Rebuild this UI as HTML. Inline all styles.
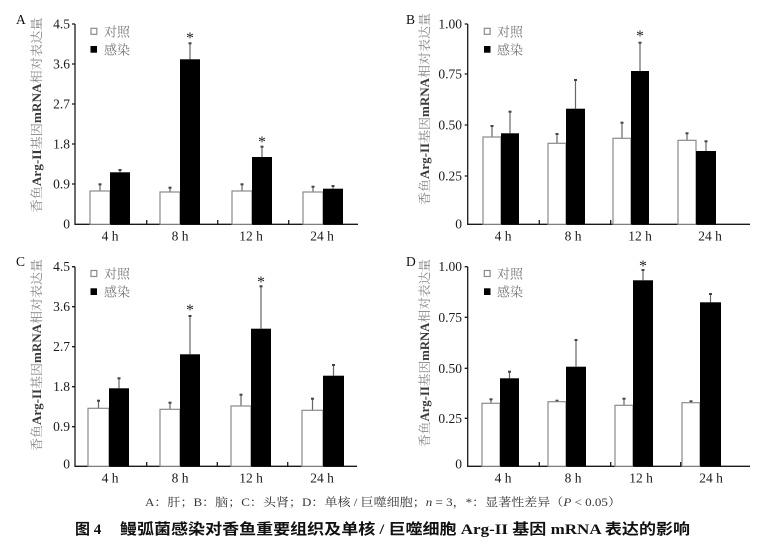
<!DOCTYPE html>
<html><head><meta charset="utf-8"><style>
html,body{margin:0;padding:0;background:#fff;}
svg{display:block;}
.tk{font-family:"Liberation Serif","Noto Serif CJK SC",serif;font-size:13.5px;fill:#1a1a1a;}
.lg{font-family:"Liberation Serif","Noto Serif CJK SC",serif;font-size:13px;fill:#777;}
.yt{font-family:"Liberation Serif","Noto Serif CJK SC",serif;font-size:12.5px;fill:#868686;}
.yt .b{fill:#3a3a3a;font-weight:bold;}
.pl{font-family:"Liberation Serif",serif;font-size:13.5px;fill:#111;}
.st{font-family:"Liberation Serif",serif;font-size:16px;fill:#222;}
.ax{stroke:#1a1a1a;stroke-width:1.3;fill:none;}
.wb{fill:#fff;stroke:#8a8a8a;stroke-width:1.2;}
.bb{fill:#000;}
.eb{stroke:#666;stroke-width:1.2;}
.cap{stroke:#444;stroke-width:2;}
</style></head><body>
<svg width="757" height="551" viewBox="0 0 757 551" xmlns="http://www.w3.org/2000/svg">
<rect width="757" height="551" fill="#fff"/>

<!-- ===== Panel A ===== -->
<text class="pl" x="16" y="24">A</text>
<text class="yt" transform="rotate(-90 37 115)" x="37" y="115" text-anchor="middle" dominant-baseline="central" textLength="195" lengthAdjust="spacingAndGlyphs">香鱼<tspan class="b">Arg-II</tspan>基因<tspan class="b">mRNA</tspan>相对表达量</text>
<path class="ax" d="M75 24 V224.3 H358"/>
<path class="ax" d="M72 24 H75 M72 64 H75 M72 104 H75 M72 144 H75 M72 184 H75 M146.7 224 V220 M217.7 224 V220 M288.7 224 V220"/>
<g class="tk" text-anchor="end" dominant-baseline="central">
<text x="70" y="24">4.5</text><text x="70" y="64">3.6</text><text x="70" y="104">2.7</text><text x="70" y="144">1.8</text><text x="70" y="184">0.9</text><text x="70" y="224">0</text>
</g>
<g class="tk" text-anchor="middle" dominant-baseline="central">
<text x="110" y="236">4 h</text><text x="180" y="236">8 h</text><text x="251" y="236">12 h</text><text x="322" y="236">24 h</text>
</g>
<rect class="wb" x="91" y="28.3" width="5.8" height="6"/><text class="lg" x="104" y="32" dominant-baseline="central">对照</text>
<rect class="bb" x="90.5" y="46" width="6.5" height="6.7"/><text class="lg" x="104" y="50" dominant-baseline="central">感染</text>
<!-- bars A -->
<line class="eb" x1="100" y1="191" x2="100" y2="184.3"/><line class="cap" x1="98.5" y1="184.3" x2="101.5" y2="184.3"/>
<rect class="wb" x="90" y="191" width="20" height="33.3"/>
<line class="eb" x1="120" y1="172.3" x2="120" y2="170"/><line class="cap" x1="118.5" y1="170" x2="121.5" y2="170"/>
<rect class="bb" x="110" y="172.3" width="20" height="52"/>
<line class="eb" x1="170" y1="192" x2="170" y2="187.7"/><line class="cap" x1="168.5" y1="187.7" x2="171.5" y2="187.7"/>
<rect class="wb" x="160" y="192" width="20" height="32.3"/>
<line class="eb" x1="190" y1="59.3" x2="190" y2="43.3"/><line class="cap" x1="188.5" y1="43.3" x2="191.5" y2="43.3"/>
<rect class="bb" x="180" y="59.3" width="20" height="165"/>
<text class="st" x="190" y="43" text-anchor="middle">*</text>
<line class="eb" x1="242" y1="191" x2="242" y2="184.3"/><line class="cap" x1="240.5" y1="184.3" x2="243.5" y2="184.3"/>
<rect class="wb" x="232" y="191" width="20" height="33.3"/>
<line class="eb" x1="262" y1="157" x2="262" y2="146.7"/><line class="cap" x1="260.5" y1="146.7" x2="263.5" y2="146.7"/>
<rect class="bb" x="252" y="157" width="20" height="67.3"/>
<text class="st" x="262" y="147" text-anchor="middle">*</text>
<line class="eb" x1="313" y1="192" x2="313" y2="186.7"/><line class="cap" x1="311.5" y1="186.7" x2="314.5" y2="186.7"/>
<rect class="wb" x="303" y="192" width="20" height="32.3"/>
<line class="eb" x1="333" y1="188.7" x2="333" y2="186"/><line class="cap" x1="331.5" y1="186" x2="334.5" y2="186"/>
<rect class="bb" x="323" y="188.7" width="20" height="35.6"/>

<!-- ===== Panel B ===== -->
<text class="pl" x="406" y="24">B</text>
<text class="yt" transform="rotate(-90 425 109)" x="425" y="109" text-anchor="middle" dominant-baseline="central" textLength="192" lengthAdjust="spacingAndGlyphs">香鱼<tspan class="b">Arg-II</tspan>基因<tspan class="b">mRNA</tspan>相对表达量</text>
<path class="ax" d="M467.7 24 V224.3 H750"/>
<path class="ax" d="M464.7 24 H467.7 M464.7 74 H467.7 M464.7 125 H467.7 M464.7 176 H467.7 M539.3 224 V220 M610.7 224 V220 M680 224 V220"/>
<g class="tk" text-anchor="end" dominant-baseline="central">
<text x="462" y="24">1.00</text><text x="462" y="74">0.75</text><text x="462" y="125">0.50</text><text x="462" y="176">0.25</text><text x="462" y="224">0</text>
</g>
<g class="tk" text-anchor="middle" dominant-baseline="central">
<text x="503" y="236">4 h</text><text x="573" y="236">8 h</text><text x="640" y="236">12 h</text><text x="710" y="236">24 h</text>
</g>
<rect class="wb" x="484.3" y="28.3" width="5.8" height="6"/><text class="lg" x="497" y="32" dominant-baseline="central">对照</text>
<rect class="bb" x="484" y="46" width="6.5" height="6.7"/><text class="lg" x="497" y="50" dominant-baseline="central">感染</text>
<!-- bars B -->
<line class="eb" x1="492" y1="137" x2="492" y2="126"/><line class="cap" x1="490.5" y1="126" x2="493.5" y2="126"/>
<rect class="wb" x="483" y="137" width="18" height="87.3"/>
<line class="eb" x1="510" y1="133.3" x2="510" y2="111.7"/><line class="cap" x1="508.5" y1="111.7" x2="511.5" y2="111.7"/>
<rect class="bb" x="501" y="133.3" width="18" height="91"/>
<line class="eb" x1="557" y1="143.3" x2="557" y2="134"/><line class="cap" x1="555.5" y1="134" x2="558.5" y2="134"/>
<rect class="wb" x="548" y="143.3" width="18" height="81"/>
<line class="eb" x1="575.5" y1="108.7" x2="575.5" y2="80"/><line class="cap" x1="574" y1="80" x2="577" y2="80"/>
<rect class="bb" x="566" y="108.7" width="19" height="115.6"/>
<line class="eb" x1="622" y1="138.3" x2="622" y2="122.7"/><line class="cap" x1="620.5" y1="122.7" x2="623.5" y2="122.7"/>
<rect class="wb" x="613" y="138.3" width="18" height="86"/>
<line class="eb" x1="640" y1="71" x2="640" y2="42.7"/><line class="cap" x1="638.5" y1="42.7" x2="641.5" y2="42.7"/>
<rect class="bb" x="631" y="71" width="18" height="153.3"/>
<text class="st" x="640" y="41" text-anchor="middle">*</text>
<line class="eb" x1="687" y1="140.3" x2="687" y2="133.3"/><line class="cap" x1="685.5" y1="133.3" x2="688.5" y2="133.3"/>
<rect class="wb" x="678" y="140.3" width="18" height="84"/>
<line class="eb" x1="706" y1="151" x2="706" y2="141.3"/><line class="cap" x1="704.5" y1="141.3" x2="707.5" y2="141.3"/>
<rect class="bb" x="696" y="151" width="20" height="73.3"/>

<!-- ===== Panel C ===== -->
<text class="pl" x="16" y="266">C</text>
<text class="yt" transform="rotate(-90 37 355)" x="37" y="355" text-anchor="middle" dominant-baseline="central" textLength="192" lengthAdjust="spacingAndGlyphs">香鱼<tspan class="b">Arg-II</tspan>基因<tspan class="b">mRNA</tspan>相对表达量</text>
<path class="ax" d="M75 266.7 V466.3 H357"/>
<path class="ax" d="M72 266.7 H75 M72 306.7 H75 M72 346.7 H75 M72 386.7 H75 M72 426.7 H75 M146.7 466 V462 M217.3 466 V462 M287.7 466 V462"/>
<g class="tk" text-anchor="end" dominant-baseline="central">
<text x="70" y="266.7">4.5</text><text x="70" y="306.7">3.6</text><text x="70" y="346.7">2.7</text><text x="70" y="386.7">1.8</text><text x="70" y="426.7">0.9</text><text x="70" y="464">0</text>
</g>
<g class="tk" text-anchor="middle" dominant-baseline="central">
<text x="110" y="478">4 h</text><text x="180" y="478">8 h</text><text x="251" y="478">12 h</text><text x="322" y="478">24 h</text>
</g>
<rect class="wb" x="91" y="270.5" width="5.8" height="6"/><text class="lg" x="104" y="274" dominant-baseline="central">对照</text>
<rect class="bb" x="90.5" y="288.3" width="6.5" height="6.7"/><text class="lg" x="104" y="292" dominant-baseline="central">感染</text>
<!-- bars C -->
<line class="eb" x1="98.5" y1="408.3" x2="98.5" y2="400.7"/><line class="cap" x1="97" y1="400.7" x2="100" y2="400.7"/>
<rect class="wb" x="88" y="408.3" width="21" height="58"/>
<line class="eb" x1="119" y1="388.3" x2="119" y2="378.3"/><line class="cap" x1="117.5" y1="378.3" x2="120.5" y2="378.3"/>
<rect class="bb" x="109" y="388.3" width="20" height="78"/>
<line class="eb" x1="170" y1="409.3" x2="170" y2="402.7"/><line class="cap" x1="168.5" y1="402.7" x2="171.5" y2="402.7"/>
<rect class="wb" x="160" y="409.3" width="20" height="57"/>
<line class="eb" x1="190" y1="354.3" x2="190" y2="316"/><line class="cap" x1="188.5" y1="316" x2="191.5" y2="316"/>
<rect class="bb" x="180" y="354.3" width="20" height="112"/>
<text class="st" x="190" y="315" text-anchor="middle">*</text>
<line class="eb" x1="241" y1="406" x2="241" y2="394.7"/><line class="cap" x1="239.5" y1="394.7" x2="242.5" y2="394.7"/>
<rect class="wb" x="231" y="406" width="20" height="60.3"/>
<line class="eb" x1="261" y1="328.7" x2="261" y2="286.3"/><line class="cap" x1="259.5" y1="286.3" x2="262.5" y2="286.3"/>
<rect class="bb" x="251" y="328.7" width="20" height="137.6"/>
<text class="st" x="261" y="287" text-anchor="middle">*</text>
<line class="eb" x1="312.5" y1="410.3" x2="312.5" y2="398.7"/><line class="cap" x1="311" y1="398.7" x2="314" y2="398.7"/>
<rect class="wb" x="302" y="410.3" width="21" height="56"/>
<line class="eb" x1="333.5" y1="375.7" x2="333.5" y2="365"/><line class="cap" x1="332" y1="365" x2="335" y2="365"/>
<rect class="bb" x="323" y="375.7" width="21" height="90.6"/>

<!-- ===== Panel D ===== -->
<text class="pl" x="406" y="266">D</text>
<text class="yt" transform="rotate(-90 425 353)" x="425" y="353" text-anchor="middle" dominant-baseline="central" textLength="188" lengthAdjust="spacingAndGlyphs">香鱼<tspan class="b">Arg-II</tspan>基因<tspan class="b">mRNA</tspan>相对表达量</text>
<path class="ax" d="M467.7 266.7 V466.3 H750"/>
<path class="ax" d="M464.7 266.7 H467.7 M464.7 317.3 H467.7 M464.7 368.3 H467.7 M464.7 418.3 H467.7 M539.3 466 V462 M610.7 466 V462 M680.7 466 V462"/>
<g class="tk" text-anchor="end" dominant-baseline="central">
<text x="462" y="266.7">1.00</text><text x="462" y="317.3">0.75</text><text x="462" y="368.3">0.50</text><text x="462" y="418.3">0.25</text><text x="462" y="464">0</text>
</g>
<g class="tk" text-anchor="middle" dominant-baseline="central">
<text x="503" y="478">4 h</text><text x="573" y="478">8 h</text><text x="641" y="478">12 h</text><text x="711" y="478">24 h</text>
</g>
<rect class="wb" x="484.3" y="270.5" width="5.8" height="6"/><text class="lg" x="497" y="274" dominant-baseline="central">对照</text>
<rect class="bb" x="484" y="288.3" width="6.5" height="6.7"/><text class="lg" x="497" y="292" dominant-baseline="central">感染</text>
<!-- bars D -->
<line class="eb" x1="491" y1="403.3" x2="491" y2="399.3"/><line class="cap" x1="489.5" y1="399.3" x2="492.5" y2="399.3"/>
<rect class="wb" x="482" y="403.3" width="18" height="63"/>
<line class="eb" x1="509.5" y1="378.3" x2="509.5" y2="371.7"/><line class="cap" x1="508" y1="371.7" x2="511" y2="371.7"/>
<rect class="bb" x="500" y="378.3" width="19" height="88"/>
<line class="cap" x1="555.5" y1="400.7" x2="558.5" y2="400.7"/>
<rect class="wb" x="548" y="401.7" width="18" height="64.6"/>
<line class="eb" x1="576" y1="366.7" x2="576" y2="340"/><line class="cap" x1="574.5" y1="340" x2="577.5" y2="340"/>
<rect class="bb" x="566" y="366.7" width="20" height="99.6"/>
<line class="eb" x1="624" y1="405.3" x2="624" y2="398.7"/><line class="cap" x1="622.5" y1="398.7" x2="625.5" y2="398.7"/>
<rect class="wb" x="615" y="405.3" width="18" height="61"/>
<line class="eb" x1="643" y1="280.3" x2="643" y2="270"/><line class="cap" x1="641.5" y1="270" x2="644.5" y2="270"/>
<rect class="bb" x="633" y="280.3" width="20" height="186"/>
<text class="st" x="643" y="271" text-anchor="middle">*</text>
<line class="cap" x1="689.5" y1="401.3" x2="692.5" y2="401.3"/>
<rect class="wb" x="682" y="402.7" width="18" height="63.6"/>
<line class="eb" x1="710.5" y1="302.3" x2="710.5" y2="294"/><line class="cap" x1="709" y1="294" x2="712" y2="294"/>
<rect class="bb" x="700" y="302.3" width="21" height="164"/>

<!-- ===== Captions ===== -->
<text x="145" y="506" font-family="'Liberation Serif','Noto Serif CJK SC',serif" font-size="11.5" fill="#333" textLength="476" lengthAdjust="spacingAndGlyphs">A：肝；B：脑；C：头肾；D：单核 / 巨噬细胞；<tspan font-style="italic">n</tspan> = 3，*：显著性差异（<tspan font-style="italic">P</tspan> &lt; 0.05）</text>
<text x="75" y="534" font-family="'Liberation Serif','Noto Sans CJK SC',sans-serif" font-size="15" font-weight="bold" fill="#111">图 4</text>
<text x="120" y="534" font-family="'Liberation Serif','Noto Sans CJK SC',sans-serif" font-size="15" font-weight="bold" fill="#111" textLength="570" lengthAdjust="spacingAndGlyphs">鳗弧菌感染对香鱼重要组织及单核 / 巨噬细胞 Arg-II 基因 mRNA 表达的影响</text>
</svg>
</body></html>
